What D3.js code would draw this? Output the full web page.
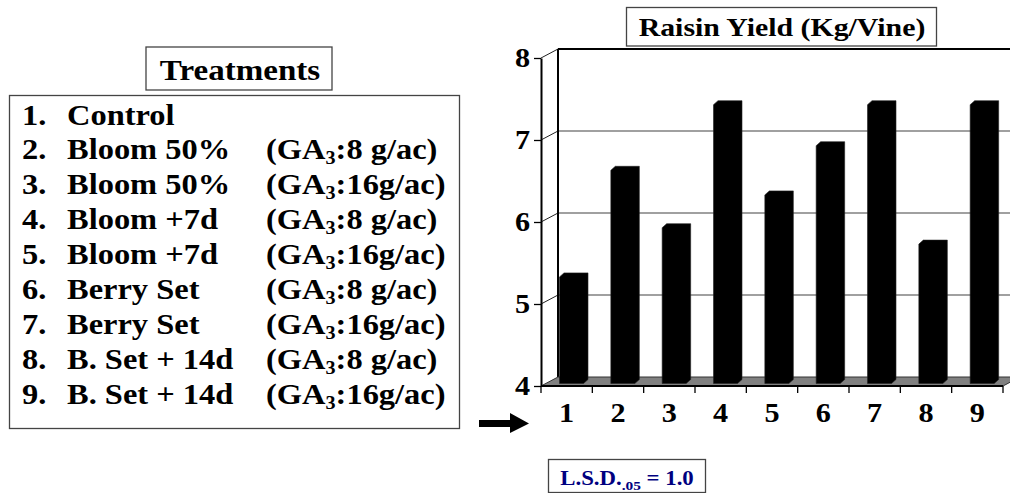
<!DOCTYPE html>
<html>
<head>
<meta charset="utf-8">
<script src="https://cdn.jsdelivr.net/npm/d3@7"></script>
<style>
  body { margin: 0; background: #fff; }
  svg { display: block; }
  text { font-family: "Liberation Serif", "Times New Roman", serif; font-weight: bold; fill: #000; }
</style>
</head>
<body>
<svg id="chart" width="1010" height="493"></svg>
<script>
// treatments list
var treatmentNums = ["1.", "2.", "3.", "4.", "5.", "6.", "7.", "8.", "9."];
var treatmentNames = ["Control", "Bloom 50%", "Bloom 50%", "Bloom +7d", "Bloom +7d",
  "Berry Set", "Berry Set", "B. Set + 14d", "B. Set + 14d"];
var gaRates = [null, "8 g/ac", "16g/ac", "8 g/ac", "16g/ac", "8 g/ac", "16g/ac", "8 g/ac", "16g/ac"];

// chart data
var categories = ["1", "2", "3", "4", "5", "6", "7", "8", "9"];
var yieldValues = [5.3, 6.6, 5.9, 7.4, 6.3, 6.9, 7.4, 5.7, 7.4];
var yTicks = [4, 5, 6, 7, 8];
var gridValues = [5, 6, 7];

var svg = d3.select("#chart");
var stretch = 1.12; // the original lettering is wide

function putText(g, x, y, str, size, anchor, sx) {
  return g.append("text")
    .attr("transform", "translate(" + x + "," + y + ") scale(" + (sx || stretch) + ",1)")
    .attr("font-size", size)
    .attr("text-anchor", anchor || "start")
    .text(str);
}

// ---------- treatments panel ----------
var left = svg.append("g");
left.append("rect").attr("x", 146).attr("y", 47).attr("width", 186).attr("height", 43)
  .attr("fill", "#fff").attr("stroke", "#444").attr("stroke-width", 1.3);
putText(left, 240, 80, "Treatments", 29, "middle", 1.14);

left.append("rect").attr("x", 9.5).attr("y", 95.5).attr("width", 450).attr("height", 333)
  .attr("fill", "#fff").attr("stroke", "#444").attr("stroke-width", 1.3);

treatmentNums.forEach(function (n, i) {
  var y = 124.5 + i * 34.9;
  putText(left, 22, y, n, 29);
  putText(left, 67, y, treatmentNames[i], 29);
  if (gaRates[i]) {
    var t = putText(left, 266, y, "", 29);
    t.append("tspan").text("(GA");
    t.append("tspan").attr("font-size", 18).attr("dy", 5).text("3");
    t.append("tspan").attr("dy", -5).text(":" + gaRates[i] + ")");
  }
});

// ---------- 3D column chart ----------
var x0 = 541, x1 = 1003;
var dx = 17, dy = -9;          // wall depth
var bdx = 4.5, bdy = -4;       // bar depth
var x = d3.scaleBand().domain(categories).range([x0, x1]);
var y = d3.scaleLinear().domain([4, 8]).range([386, 58]);

var chart = svg.append("g");

// back wall
chart.append("rect")
  .attr("x", x0 + dx).attr("y", y(8) + dy)
  .attr("width", 1010 - x0 - dx).attr("height", y(4) - y(8))
  .attr("fill", "#fff");

// grid lines on back wall
chart.selectAll("line.grid").data(gridValues).enter().append("line")
  .attr("class", "grid")
  .attr("x1", x0 + dx).attr("x2", 1010)
  .attr("y1", function (d) { return y(d) + dy; })
  .attr("y2", function (d) { return y(d) + dy; })
  .attr("stroke", "#808080").attr("stroke-width", 1.5);

// diagonal lines on the left wall
chart.selectAll("line.side").data(yTicks.slice(1)).enter().append("line")
  .attr("class", "side")
  .attr("x1", x0).attr("x2", x0 + dx)
  .attr("y1", function (d) { return y(d); })
  .attr("y2", function (d) { return y(d) + dy; })
  .attr("stroke", "#222").attr("stroke-width", 1);

// back wall borders
chart.append("line").attr("x1", x0 + dx).attr("x2", 1010)
  .attr("y1", y(8) + dy).attr("y2", y(8) + dy)
  .attr("stroke", "#000").attr("stroke-width", 2);
chart.append("line").attr("x1", x0 + dx).attr("x2", x0 + dx)
  .attr("y1", y(8) + dy).attr("y2", y(4) + dy)
  .attr("stroke", "#000").attr("stroke-width", 2);

// floor
chart.append("path")
  .attr("d", "M" + x0 + "," + y(4) + "L" + x1 + "," + y(4) +
    "L" + (x1 + dx) + "," + (y(4) + dy) + "L" + (x0 + dx) + "," + (y(4) + dy) + "Z")
  .attr("fill", "#808080").attr("stroke", "#333").attr("stroke-width", 1);

// bars
var barOff = 18.5, barW = 24, barLift = 2.5;
chart.selectAll("path.bar").data(yieldValues).enter().append("path")
  .attr("class", "bar")
  .attr("d", function (v, i) {
    var l = x(categories[i]) + barOff, r = l + barW;
    var t = y(v) - barLift, b = y(4) - barLift;
    return "M" + l + "," + b + "L" + l + "," + t +
      "L" + (l + bdx) + "," + (t + bdy) + "L" + (r + bdx) + "," + (t + bdy) +
      "L" + (r + bdx) + "," + (b + bdy) + "L" + r + "," + b + "Z";
  })
  .attr("fill", "#000").attr("stroke", "#222").attr("stroke-width", 0.6);

// y axis
var yAxis = chart.append("g").attr("transform", "translate(" + x0 + ",0)")
  .call(d3.axisLeft(y).tickValues(yTicks).tickFormat(d3.format("d"))
    .tickSize(7).tickSizeOuter(0).tickPadding(3));
yAxis.select(".domain").attr("stroke", "#000").attr("stroke-width", 2);
yAxis.selectAll(".tick line").attr("stroke", "#000").attr("stroke-width", 1.3);
yAxis.selectAll(".tick text")
  .attr("font-size", 27).attr("font-family", null)
  .attr("transform", "scale(" + stretch + ",1)")
  .attr("x", -11 / stretch);

// x axis front line and boundary ticks
chart.append("line").attr("x1", x0).attr("x2", x1).attr("y1", y(4)).attr("y2", y(4))
  .attr("stroke", "#000").attr("stroke-width", 2);
var bounds = categories.map(function (c) { return x(c); }).concat([x1]);
chart.selectAll("line.xtick").data(bounds).enter().append("line")
  .attr("class", "xtick")
  .attr("x1", function (d) { return d; }).attr("x2", function (d) { return d; })
  .attr("y1", y(4)).attr("y2", y(4) + 7)
  .attr("stroke", "#000").attr("stroke-width", 1.3);

// x labels
var xAxis = chart.append("g").attr("transform", "translate(0," + y(4) + ")")
  .call(d3.axisBottom(x).tickSize(0).tickPadding(0));
xAxis.select(".domain").remove();
xAxis.selectAll(".tick text")
  .attr("font-size", 27).attr("font-family", null)
  .attr("y", 36).attr("dy", null)
  .attr("transform", "scale(" + stretch + ",1)");

// chart title
chart.append("rect").attr("x", 626.5).attr("y", 7.5).attr("width", 310).attr("height", 38.5)
  .attr("fill", "#fff").attr("stroke", "#444").attr("stroke-width", 1.3);
putText(chart, 782, 36, "Raisin Yield (Kg/Vine)", 25.5, "middle", 1.17);

// arrow
svg.append("path")
  .attr("d", "M479,420L510,420L510,413L529,423.5L510,433L510,427L479,427Z")
  .attr("fill", "#000");

// LSD box
svg.append("rect").attr("x", 548.5).attr("y", 459.5).attr("width", 157).attr("height", 33)
  .attr("fill", "#fff").attr("stroke", "#444").attr("stroke-width", 1.3);
var lsd = putText(svg, 627, 485, "", 20, "middle", 1.14).style("fill", "#000080");
lsd.append("tspan").text("L.S.D.");
lsd.append("tspan").attr("font-size", 13.5).attr("dy", 5).text(".05");
lsd.append("tspan").attr("dy", -5).text(" = 1.0");
</script>
</body>
</html>
